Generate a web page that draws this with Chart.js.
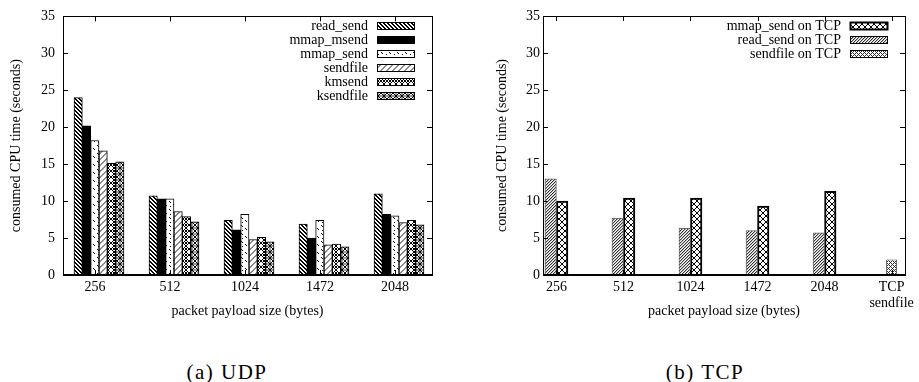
<!DOCTYPE html>
<html>
<head>
<meta charset="utf-8">
<script src="https://cdn.jsdelivr.net/npm/chart.js@4.4.1/dist/chart.umd.min.js"></script>
<style>
  body { margin: 0; background: #fff; }
  #wrap { position: relative; width: 919px; height: 382px; overflow: hidden; background: #fff; }
  canvas { position: absolute; top: 0; }
  #udp { left: 0; }
  #tcp { left: 460px; }
  .caption {
    position: absolute; top: 360px; transform: translateX(-50%);
    font-family: 'Liberation Serif', serif; font-size: 21px; letter-spacing: 1.5px;
    line-height: 24px; white-space: nowrap; color: #000;
  }
</style>
</head>
<body>
<div id="wrap">
  <canvas id="udp" width="460" height="330"></canvas>
  <canvas id="tcp" width="459" height="330"></canvas>
  <div class="caption" style="left:227px">(a) UDP</div>
  <div class="caption" style="left:705px">(b) TCP</div>
</div>
<script>
// valores (segundos de CPU)
const udpSizes = ['256', '512', '1024', '1472', '2048'];
const udpReadSend = [24.0, 10.7, 7.4, 6.9, 11.0];
const udpMmapMsend = [20.2, 10.3, 6.1, 5.0, 8.2];
const udpMmapSend = [18.2, 10.3, 8.2, 7.4, 8.0];
const udpSendfile = [16.8, 8.6, 4.8, 4.1, 7.1];
const udpKmsend = [15.1, 7.9, 5.1, 4.2, 7.4];
const udpKsendfile = [15.3, 7.2, 4.5, 3.8, 6.8];

const tcpSizes = ['256', '512', '1024', '1472', '2048', ['TCP', 'sendfile']];
const tcpMmapSend = [10.0, 10.4, 10.4, 9.3, 11.3, null];
const tcpReadSend = [13.0, 7.7, 6.3, 6.0, 5.7, null];
const tcpSendfile = [null, null, null, null, null, 2.1];

const yTicks = { min: 0, max: 35, step: 5 };

Chart.defaults.font.family = "'Liberation Serif', 'Times New Roman', serif";
Chart.defaults.font.size = 14;
Chart.defaults.color = '#000';

// tramas tipo gnuplot
function rule(w, h, color, test, bg) {
    const c = document.createElement('canvas');
    c.width = w; c.height = h;
    const g = c.getContext('2d');
    g.fillStyle = bg || '#fff';
    g.fillRect(0, 0, w, h);
    for (let y = 0; y < h; y++) {
        for (let x = 0; x < w; x++) {
            const col = test(x, y);
            if (col) {
                g.fillStyle = col === true ? color : col;
                g.fillRect(x, y, 1, 1);
            }
        }
    }
    return g.createPattern(c, 'repeat');
}

const fills = {
    hatchBack: rule(4, 4, '#000', (x, y) => (x - y + 4) % 4 < 2),
    solid: '#000',
    dots: rule(8, 8, '#000', (x, y) => (x === 1 && y === 1) || (x === 2 && y === 2) || (x === 5 && y === 4) || (x === 6 && y === 5) || (x === 2 && y === 6)),
    fwdLight: rule(6, 6, '#8a8a8a', (x, y) => (x + y) % 6 === 0 || (x + y) % 6 === 1),
    kmsend: rule(6, 6, '#000', (x, y) => (x === y || x + y === 5) ? true : ((x === 0 || x === 5) && (y === 2 || y === 3)) ? true : false),
    ksendfile: rule(6, 6, '#000', (x, y) => (x === y || x + y === 5) ? true : ((x === 0 || x === 5 || y === 0 || y === 5) ? '#9a9a9a' : false)),
    diamond: rule(6, 6, '#000', (x, y) => x === y || x + y === 5),
    denseFwd: rule(3, 3, '#333', (x, y) => (x + y) % 3 === 0 ? true : ((x + y) % 3 === 1 ? '#bbb' : false)),
    check: rule(4, 4, '#333', (x, y) => (x + y) % 4 === 0 || (x - y + 4) % 4 === 0)
};

// marco y marcas hacia dentro en los cuatro lados
const gnuplotFrame = {
    id: 'gnuplotFrame',
    afterDatasetsDraw(chart) {
        const { ctx, chartArea: a, scales: { x, y } } = chart;
        const off = x.options.ticks.labelOffset || 0;
        ctx.save();
        ctx.strokeStyle = '#000';
        ctx.lineWidth = 1;
        ctx.beginPath();
        y.ticks.forEach(t => {
            const py = Math.round(y.getPixelForValue(t.value)) + 0.5;
            ctx.moveTo(a.left, py); ctx.lineTo(a.left + 5, py);
            ctx.moveTo(a.right, py); ctx.lineTo(a.right - 5, py);
        });
        x.ticks.forEach(t => {
            const px = Math.round(x.getPixelForValue(t.value) + off) + 0.5;
            ctx.moveTo(px, a.bottom); ctx.lineTo(px, a.bottom - 5);
            ctx.moveTo(px, a.top); ctx.lineTo(px, a.top + 5);
        });
        ctx.stroke();
        ctx.strokeRect(Math.round(a.left) + 0.5, Math.round(a.top) + 0.5, Math.round(a.right - a.left), Math.round(a.bottom - a.top));
        ctx.lineWidth = 2;
        ctx.beginPath();
        ctx.moveTo(a.left, Math.round(a.bottom));
        ctx.lineTo(a.right, Math.round(a.bottom));
        ctx.stroke();
        ctx.restore();
    }
};

// leyenda arriba a la derecha, texto alineado a la derecha y muestra a la derecha
const sideLegend = {
    id: 'sideLegend',
    afterDraw(chart) {
        const { ctx, chartArea: a } = chart;
        ctx.save();
        ctx.font = "14px 'Liberation Serif'";
        ctx.textAlign = 'right';
        ctx.textBaseline = 'middle';
        chart.data.datasets.forEach((ds, i) => {
            const yc = Math.round(a.top + 10 + 14 * i);
            ctx.fillStyle = '#000';
            ctx.fillText(ds.label, a.right - 64, yc);
            const bx = Math.round(a.right - 55);
            ctx.fillStyle = ds.backgroundColor;
            ctx.fillRect(bx, yc - 4, 38, 8);
            ctx.strokeStyle = '#000';
            ctx.lineWidth = ds.borderWidth;
            ctx.strokeRect(bx + 0.5, yc - 3.5, 37, 7);
        });
        ctx.restore();
    }
};

function toPoints(values) {
    return values.map((v, i) => ({ x: i, y: v }));
}

function yAxis(width, pad, titlePad) {
    return {
        min: yTicks.min,
        max: yTicks.max,
        grid: { display: false, drawTicks: false },
        border: { display: false },
        ticks: { stepSize: yTicks.step, padding: pad },
        afterFit: s => { s.width = width; },
        title: { display: true, text: 'consumed CPU time (seconds)', padding: { top: titlePad, bottom: 0 } }
    };
}

function xAxis(labels, min, max, labelOffset) {
    return {
        type: 'linear',
        min: min,
        max: max,
        offset: false,
        grid: { display: false, drawTicks: false },
        border: { display: false },
        afterBuildTicks: s => { s.ticks = labels.map((_, i) => ({ value: i })); },
        afterFit: s => { s.height = 55; },
        ticks: {
            autoSkip: false, maxRotation: 0, minRotation: 0, padding: 5,
            labelOffset: labelOffset,
            font: { size: 14, lineHeight: 1.1 },
            callback: v => labels[v]
        },
        title: { display: true, text: 'packet payload size (bytes)', padding: { top: 0, bottom: 10.6 } }
    };
}

// (a) UDP
const udpSeries = [
    ['read_send', udpReadSend, fills.hatchBack],
    ['mmap_msend', udpMmapMsend, fills.solid],
    ['mmap_send', udpMmapSend, fills.dots],
    ['sendfile', udpSendfile, fills.fwdLight],
    ['kmsend', udpKmsend, fills.kmsend],
    ['ksendfile', udpKsendfile, fills.ksendfile]
];

new Chart(document.getElementById('udp'), {
    type: 'bar',
    data: {
        datasets: udpSeries.map(([label, values, fill]) => ({
            label: label,
            data: toPoints(values),
            backgroundColor: fill,
            borderColor: '#000',
            borderWidth: 1,
            barThickness: 8.33
        }))
    },
    options: {
        responsive: false,
        animation: false,
        layout: { padding: { top: 16, right: 28, left: 0, bottom: 0 } },
        plugins: { legend: { display: false }, tooltip: { enabled: false } },
        scales: {
            x: xAxis(udpSizes, -0.48, 4.44, -4),
            y: yAxis(63, 8, 7.6)
        }
    },
    plugins: [gnuplotFrame, sideLegend]
});

// (b) TCP
new Chart(document.getElementById('tcp'), {
    type: 'bar',
    data: {
        datasets: [
            {
                label: 'mmap_send on TCP',
                data: toPoints(tcpMmapSend),
                backgroundColor: fills.diamond,
                borderColor: '#000',
                borderWidth: 2,
                barThickness: 11.5,
                order: 1
            },
            {
                label: 'read_send on TCP',
                data: toPoints(tcpReadSend),
                backgroundColor: fills.denseFwd,
                borderColor: '#666',
                borderWidth: 1,
                barThickness: 11.5,
                order: 0
            },
            {
                label: 'sendfile on TCP',
                data: toPoints(tcpSendfile),
                backgroundColor: fills.check,
                borderColor: '#555',
                borderWidth: 1,
                grouped: false,
                maxBarThickness: 11,
                order: 2
            }
        ]
    },
    options: {
        responsive: false,
        animation: false,
        layout: { padding: { top: 16, right: 7, left: 0, bottom: 0 } },
        plugins: { legend: { display: false }, tooltip: { enabled: false } },
        scales: {
            x: xAxis(tcpSizes, -0.2, 5.2, 0),
            y: yAxis(83, 3, 33.6)
        }
    },
    plugins: [gnuplotFrame, sideLegend]
});
</script>
</body>
</html>
